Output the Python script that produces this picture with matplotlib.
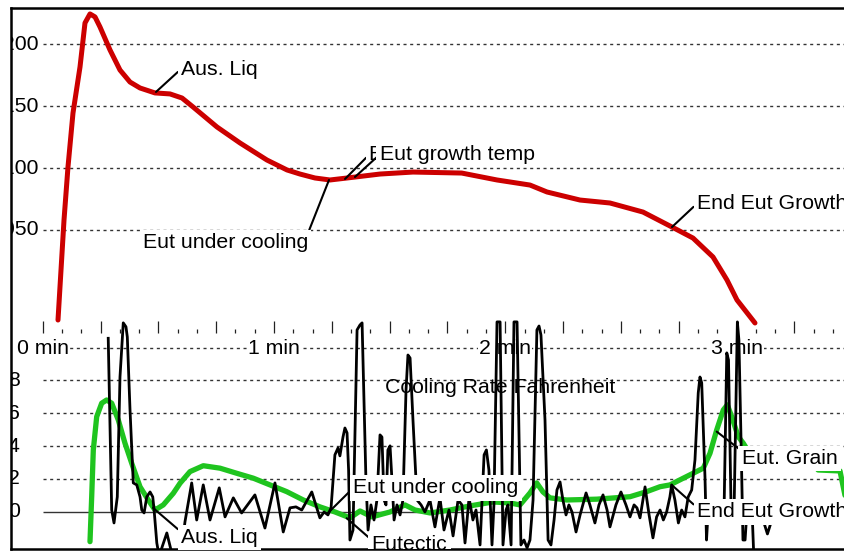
import numpy as np
import matplotlib.pyplot as plt
from matplotlib.ticker import FixedLocator

plt.rcParams['font.family'] = ['Liberation Sans', 'DejaVu Sans']

# temperature curve, seconds / deg F
temp_t = [3.97, 5.53, 6.56, 7.86, 9.68, 10.97, 12.27, 13.57, 14.86, 17.46,
          20.05, 22.65, 25.24, 29.13, 33.02, 36.14, 38.99, 45.21, 51.18, 58.18,
          63.37, 66.74, 70.64, 74.53, 78.94, 87.50, 96.06, 108.69, 117.85, 126.41,
          130.82, 139.38, 147.16, 155.72, 163.24, 168.69, 173.88, 177.51, 180.10, 184.77]
temp_f = [1977.3, 2058.1, 2100.9, 2144.5, 2181.7, 2217.2, 2224.5, 2222.1, 2214.0, 2195.4,
          2179.2, 2169.5, 2164.7, 2160.7, 2159.9, 2156.6, 2149.4, 2133.2, 2120.3, 2106.5,
          2098.5, 2095.2, 2092.0, 2090.4, 2092.0, 2095.2, 2096.8, 2096.0, 2090.4, 2086.3,
          2080.7, 2074.2, 2071.8, 2064.5, 2052.4, 2043.5, 2028.2, 2009.6, 1993.5, 1974.9]

# raw cooling rate
nan = np.nan
rate_t = [17.0, 17.9, 18.5, 19.35, 20.05, 20.9, 21.6, 21.95, 22.65, 23.5,
          24.4, 25.25, 25.7, 26.3, 27.0, 27.85, 28.55, 28.9, 29.6, 30.2,
          32.2, 33.15, 34.05, 35.9, 36.9, 38.65, 39.95, 41.65, 43.4, 45.8,
          47.3, 49.45, 51.6, 55.05, 57.65, 60.25, 62.4, 64.15, 65.7, 67.2,
          69.8, 71.9, 73.0, 74.0, 74.8, 75.8, 76.6, 77.1, 77.9, 78.4,
          78.95, 79.35, 79.7, 80.5, 81.55, 82.3, 82.85, 83.85, 84.4, 85.15,
          85.95, 86.7, 87.5, 88.0, 88.55, 89.05, 89.55, 90.1, 90.6, 91.15,
          91.9, 92.7, 93.45, 94.25, 94.75, 95.3, 96.05, 97.1, 98.15, 99.15,
          100.45, 101.75, 103.05, 104.1, 105.4, 106.45, 107.75, 108.75, 109.55, 110.6,
          111.6, 112.4, 113.45, 114.5, 115.1, 115.75, 116.55, 117.05, 117.85, 118.65,
          119.4, 120.2, 120.7, 121.5, 122.25, 123.05, 124.05, 124.85, 125.65, 126.4,
          127.2, 128.2, 128.75, 129.25, 130.3, 131.1, 131.85, 132.65, 133.4, 134.2,
          134.95, 135.75, 136.5, 137.3, 138.35, 139.4, 140.95, 141.95, 143.25, 144.3,
          145.35, 146.4, 147.15, 148.7, 150.0, 151.3, 152.35, 153.4, 154.15, 154.95,
          156.25, 157.3, 158.3, 159.25, 160.15, 161.0, 161.85, 162.7, 163.15, 164.0,
          164.9, 165.75, 166.6, 167.45, 168.35, 169.2, 170.05, 170.5, 170.95, 171.35,
          171.8, 172.2, 172.6, 176.75, 177.45, 177.9, 178.55, 179.35, 180.2, 180.6,
          181.15, 181.65, 182.2, 182.7, 184.0, 184.5, nan, 187.35, 188.0, 188.65]
rate_v = [10.57, 0.10, -0.69, 0.90, 8.21, 11.51, 11.27, 10.65, 6.21, 1.75,
          1.63, 0.90, 0.10, -0.08, 0.90, 1.20, 0.90, 0.10, -1.91, -2.70,
          -1.30, -2.21, -2.95, -2.64, -0.63, 1.75, -0.51, 1.63, -0.51, 1.45,
          -0.32, 0.84, -0.08, 1.02, -1.00, 1.75, -1.24, 0.23, 0.29, 0.10,
          1.20, -0.38, -0.02, -0.20, 0.23, 3.46, 3.88, 3.40, 4.55, 5.10,
          4.80, 2.54, -1.73, -1.12, 11.08, 11.38, 11.51, 1.93, -1.12, 0.41,
          -0.51, 0.71, 4.68, 4.55, 0.71, 0.41, 3.76, 4.01, 1.93, -0.51,
          0.41, -0.20, 0.71, 7.42, 9.55, 9.37, 5.59, 0.71, 0.41, -0.02,
          0.71, -0.93, 0.84, -1.12, 0.10, -1.48, 0.71, 0.41, -1.91, 0.84,
          -0.51, 0.10, -2.03, 3.46, 3.76, 2.54, -2.03, 0.41, 11.57, 11.57,
          -2.03, 0.10, 0.41, -2.03, 11.57, 11.57, -2.03, -1.73, -2.21, -1.73,
          0.71, 11.08, 11.32, 10.77, 5.59, -1.73, -2.03, -0.51, 1.32, 1.81,
          0.71, -0.20, 0.41, -0.02, -1.24, -0.20, 1.14, 0.41, -0.69, 0.41,
          1.02, 0.10, -0.93, 0.41, 1.20, 0.41, -0.32, 0.41, 0.23, -0.38,
          1.51, -0.20, -1.60, -0.32, 0.10, -0.51, -0.02, 0.90, 1.63, 0.71,
          -0.69, 0.10, -0.32, 0.90, 1.32, 3.15, 7.24, 8.21, 7.85, 5.16,
          2.10, -1.73, -0.02, 0.10, 9.68, 9.25, 0.41, 0.10, 11.57, 10.47,
          4.37, -1.73, -1.73, 0.10, 0.10, -2.95, nan, -0.87, -1.36, -0.87]

# smoothed cooling rate
smooth_t = [12.27, 12.71, 13.13, 14.01, 15.30, 16.60, 17.90, 19.61, 21.35, 23.09,
            25.24, 27.39, 29.13, 31.28, 33.88, 35.62, 38.21, 41.66, 45.99, 50.32,
            54.63, 58.96, 63.29, 67.60, 71.93, 75.82, 79.71, 82.31, 85.42, 90.09,
            93.98, 96.58, 100.47, 105.65, 110.84, 116.81, 121.22, 123.81, 126.41, 128.15,
            129.78, 131.60, 135.93, 143.71, 152.35, 156.68, 160.13, 162.72, 166.17, 171.36,
            173.10, 174.84, 176.55, 177.59, 178.73, 180.44, 181.74, 184.77, nan, 201.12,
            206.82, 208.90]
smooth_v = [-1.83, 0.91, 3.76, 5.79, 6.61, 6.81, 6.61, 5.59, 4.17, 2.95,
            1.52, 0.71, 0.10, 0.41, 1.12, 1.73, 2.44, 2.80, 2.65, 2.34,
            2.04, 1.63, 1.22, 0.71, 0.29, -0.02, -0.38, 0.04, -0.32, -0.02,
            0.41, 0.10, -0.08, 0.10, 0.35, 0.59, 0.53, 0.41, 1.14, 1.75,
            1.20, 0.84, 0.71, 0.76, 0.91, 1.22, 1.52, 1.63, 2.04, 2.65,
            3.56, 4.98, 6.20, 6.51, 5.79, 4.57, 4.17, 3.03, nan, 2.54,
            2.48, 0.10]

temp_grid = [2200, 2150, 2100, 2050]
rate_grid = [10, 8, 6, 4, 2]
rate_labels = [8, 6, 4, 2, 0]
minutes = [0, 60, 120, 180]

FS = 15.3
box = dict(boxstyle='square,pad=0.15', fc='white', ec='none')
dash = (0, (2.2, 2.6))


def note(ax, label, xy, xytext, ha='left', rel=(0, 0.5), clip=False):
    ax.annotate(label, xy=xy, xytext=xytext, ha=ha, va='center', fontsize=FS,
                bbox=box, zorder=6, annotation_clip=False, clip_on=clip,
                arrowprops=dict(arrowstyle='-', color='black', lw=1.5,
                                relpos=rel, shrinkA=0, shrinkB=0))


fig = plt.figure(figsize=(8.45, 5.51), dpi=100)
pos = [0.013254, 0.004174, 0.986746, 0.98131]
ax_t = fig.add_axes(pos)
ax_r = fig.add_axes(pos)
ax_r.patch.set_visible(False)

xlim = (-8.17, 208.12)
for ax in (ax_t, ax_r):
    ax.set_xlim(*xlim)
    ax.tick_params(axis='y', left=False, labelleft=False)
ax_t.set_ylim(1792.6, 2229.3)
ax_r.set_ylim(-2.26, 30.71)

# frame
ax_t.spines['right'].set_visible(False)
for s in ('left', 'top', 'bottom'):
    ax_t.spines[s].set_linewidth(1.8)
    ax_t.spines[s].set_color('black')
ax_t.tick_params(axis='x', bottom=False, labelbottom=False)

# temperature panel
ax_t.hlines(temp_grid, 0, 215, colors='#333333', linestyles=dash, lw=1.0, zorder=1)
for v in temp_grid:
    ax_t.text(-0.9, v, str(v), ha='right', va='center', fontsize=FS, clip_on=True)
ax_t.plot(temp_t, temp_f, color='#cc0000', lw=3.6, solid_capstyle='round',
          solid_joinstyle='round', zorder=3)

note(ax_t, 'Aus. Liq', (29.39, 2161.5), (35.88, 2180.0))
note(ax_t, 'Eut under cooling', (74.27, 2090.4), (68.82, 2039.8), ha='right', rel=(1, 1))
note(ax_t, 'Eut growth temp', (78.42, 2091.2), (84.7, 2110.9))
note(ax_t, 'Eut growth temp', (81.0, 2092.8), (87.4, 2110.9))
note(ax_t, 'End Eut Growth', (163.24, 2052.4), (169.65, 2071.1))

# time ticks, drawn on a floating spine of the rate axes
for s in ('left', 'top', 'right'):
    ax_r.spines[s].set_visible(False)
ax_r.spines['bottom'].set_position(('data', 10.878))
ax_r.spines['bottom'].set_color('none')
ax_r.xaxis.set_major_locator(FixedLocator(np.arange(0, 210, 15)))
ax_r.xaxis.set_minor_locator(FixedLocator(np.arange(0, 210, 5)))
ax_r.tick_params(axis='x', which='major', direction='in', length=8.4, width=0.9,
                 color='#222222', labelbottom=False)
ax_r.tick_params(axis='x', which='minor', direction='in', length=3.2, width=0.9,
                 color='#222222')

# rate panel
ax_r.hlines(rate_grid, 0, 215, colors='#333333', linestyles=dash, lw=1.0, zorder=1)
ax_r.hlines(0, 0, 215, colors='#333333', lw=1.0, zorder=1)
for v in rate_labels:
    ax_r.text(-6.0, v, str(v), ha='right', va='center', fontsize=FS, clip_on=True)
for m in minutes:
    ax_r.text(m, 9.95, f'{m // 60} min', ha='center', va='center', fontsize=FS,
              bbox=dict(boxstyle='square,pad=0.05', fc='white', ec='none'), zorder=2)
ax_r.text(88.79, 7.55, 'Cooling Rate Fahrenheit', ha='left', va='center',
          fontsize=FS, zorder=2)

ax_r.plot(smooth_t, smooth_v, color='#1fc41f', lw=3.8, solid_capstyle='round',
          solid_joinstyle='round', zorder=3)
ax_r.plot(rate_t, rate_v, color='black', lw=2.0, solid_joinstyle='round', zorder=4)

note(ax_r, 'Aus. Liq', (28.61, 0.23), (35.88, -1.58), rel=(0, 0.8))
note(ax_r, 'Eut under cooling', (74.01, -0.08), (80.57, 1.45))
note(ax_r, 'Eutectic', (78.86, -0.40), (85.34, -2.02), rel=(0, 0.75), clip=True)
note(ax_r, 'End Eut Growth', (163.16, 1.63), (169.65, -0.02), rel=(0, 0.75))
note(ax_r, 'Eut. Grain', (174.84, 4.88), (181.32, 3.24), rel=(0, 0.9))

fig.savefig('out.png', dpi=100)
